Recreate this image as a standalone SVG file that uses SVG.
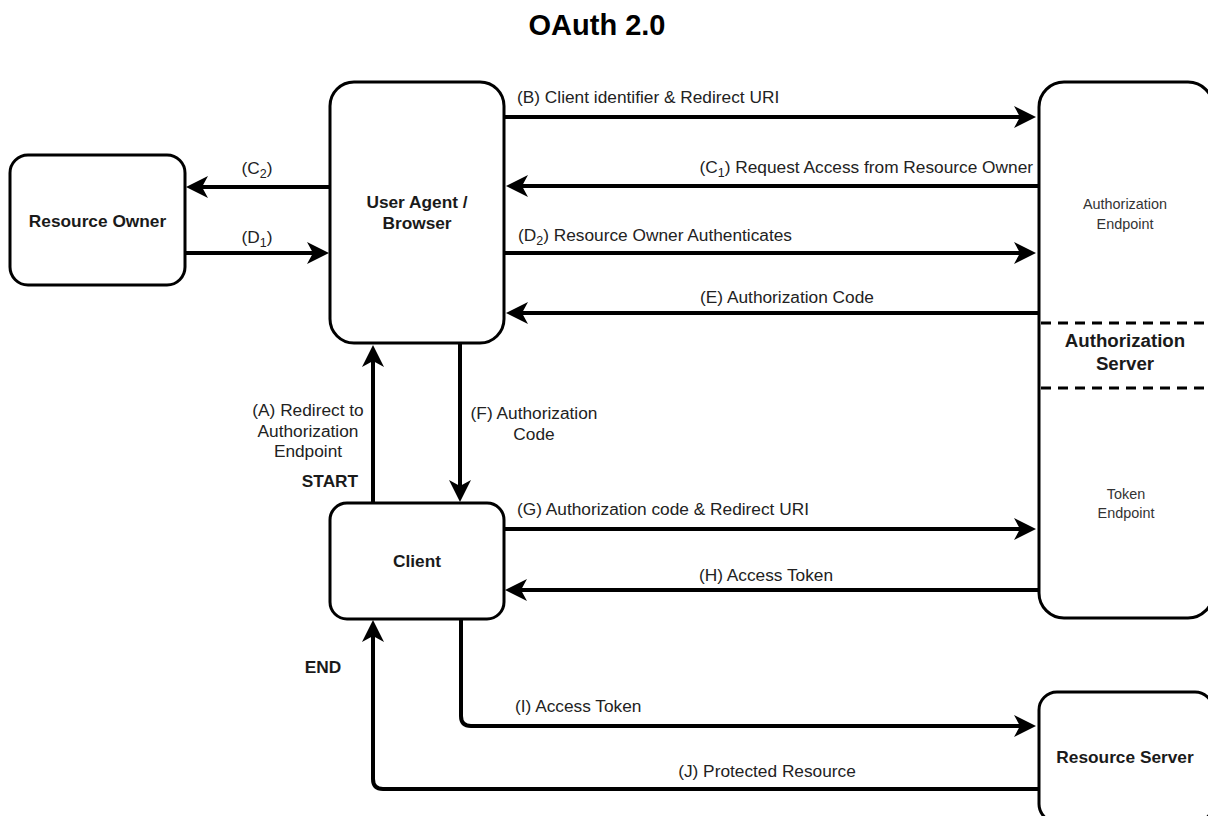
<svg xmlns="http://www.w3.org/2000/svg" width="1208" height="816" viewBox="0 0 1208 816">
  <style>
    .box { fill: #ffffff; stroke: #000000; stroke-width: 3; }
    .edge { fill: none; stroke: #000000; stroke-width: 4; }
    .dash { fill: none; stroke: #000000; stroke-width: 3; stroke-dasharray: 10 7; }
    text { font-family: "Liberation Sans", Arial, Helvetica, sans-serif; }
    .title { font-size: 29px; font-weight: bold; fill: #000000; text-anchor: middle; }
    .name { font-size: 17.3px; font-weight: bold; fill: #1a1a1a; text-anchor: middle; }
    .server { font-size: 18.7px; font-weight: bold; fill: #1a1a1a; text-anchor: middle; }
    .small { font-size: 14.4px; fill: #333333; text-anchor: middle; }
    .lbl { font-size: 17.3px; fill: #222222; }
    .mid { text-anchor: middle; }
    .end { text-anchor: end; }
    .sub { font-size: 12.5px; }
  </style>
  <defs>
    <marker id="arrow" markerUnits="userSpaceOnUse" markerWidth="24" markerHeight="24" refX="6" refY="11" orient="auto">
      <path d="M0,0 L22,11 L0,22 L6,11 Z" fill="#000000"/>
    </marker>
  </defs>

  <text class="title" x="597" y="35">OAuth 2.0</text>

  <!-- connectors -->
  <g id="connectors">
    <!-- A: client up to browser -->
    <path class="edge" d="M373,503 V361" marker-end="url(#arrow)"/>
    <!-- B -->
    <path class="edge" d="M504,117 H1020" marker-end="url(#arrow)"/>
    <!-- C1 -->
    <path class="edge" d="M1039,186 H522" marker-end="url(#arrow)"/>
    <!-- C2 -->
    <path class="edge" d="M330,187 H202" marker-end="url(#arrow)"/>
    <!-- D1 -->
    <path class="edge" d="M185,253 H313" marker-end="url(#arrow)"/>
    <!-- D2 -->
    <path class="edge" d="M504,253 H1020" marker-end="url(#arrow)"/>
    <!-- E -->
    <path class="edge" d="M1039,313 H522" marker-end="url(#arrow)"/>
    <!-- F -->
    <path class="edge" d="M460,343 V486" marker-end="url(#arrow)"/>
    <!-- G -->
    <path class="edge" d="M504,529 H1020" marker-end="url(#arrow)"/>
    <!-- H -->
    <path class="edge" d="M1039,590 H521" marker-end="url(#arrow)"/>
    <!-- I -->
    <path class="edge" d="M461,619 V716 Q461,726 471,726 H1020" marker-end="url(#arrow)"/>
    <!-- J -->
    <path class="edge" d="M1039,789 H383 Q373,789 373,779 V636" marker-end="url(#arrow)"/>

    <text class="lbl" x="517" y="103">(B) Client identifier &amp; Redirect URI</text>
    <text class="lbl end" x="1033" y="173">(C<tspan class="sub" dy="4">1</tspan><tspan dy="-4">) Request Access from Resource Owner</tspan></text>
    <text class="lbl mid" x="257" y="174">(C<tspan class="sub" dy="4">2</tspan><tspan dy="-4">)</tspan></text>
    <text class="lbl mid" x="257" y="243">(D<tspan class="sub" dy="4">1</tspan><tspan dy="-4">)</tspan></text>
    <text class="lbl" x="518" y="241">(D<tspan class="sub" dy="4">2</tspan><tspan dy="-4">) Resource Owner Authenticates</tspan></text>
    <text class="lbl mid" x="787" y="303">(E) Authorization Code</text>
    <text class="lbl mid" x="308" y="416">(A) Redirect to</text>
    <text class="lbl mid" x="308" y="437">Authorization</text>
    <text class="lbl mid" x="308" y="457">Endpoint</text>
    <text class="name" x="330" y="487">START</text>
    <text class="lbl mid" x="534" y="419">(F) Authorization</text>
    <text class="lbl mid" x="534" y="440">Code</text>
    <text class="lbl" x="517" y="515">(G) Authorization code &amp; Redirect URI</text>
    <text class="lbl mid" x="766" y="581">(H) Access Token</text>
    <text class="name" x="323" y="673">END</text>
    <text class="lbl" x="515" y="712">(I) Access Token</text>
    <text class="lbl mid" x="767" y="777">(J) Protected Resource</text>
  </g>

  <g id="resource-owner">
    <rect class="box" x="10" y="155" width="175" height="130" rx="18" ry="18"/>
    <text class="name" x="97.5" y="227">Resource Owner</text>
  </g>

  <g id="user-agent">
    <rect class="box" x="330" y="82" width="174" height="261" rx="24" ry="24"/>
    <text class="name" x="417" y="208">User Agent /</text>
    <text class="name" x="417" y="229">Browser</text>
  </g>

  <g id="client">
    <rect class="box" x="330" y="503" width="174" height="116" rx="17" ry="17"/>
    <text class="name" x="417" y="567">Client</text>
  </g>

  <g id="authorization-server">
    <rect class="box" x="1039" y="82" width="174" height="536" rx="25" ry="25"/>
    <text class="small" x="1125" y="209">Authorization</text>
    <text class="small" x="1125" y="229">Endpoint</text>
    <line class="dash" x1="1041" y1="323" x2="1210" y2="323"/>
    <text class="server" x="1125" y="347">Authorization</text>
    <text class="server" x="1125" y="370">Server</text>
    <line class="dash" x1="1041" y1="388" x2="1210" y2="388"/>
    <text class="small" x="1126" y="499">Token</text>
    <text class="small" x="1126" y="518">Endpoint</text>
  </g>

  <g id="resource-server">
    <rect class="box" x="1039" y="692" width="174" height="130" rx="18" ry="18"/>
    <text class="name" x="1125" y="763">Resource Server</text>
  </g>
</svg>
